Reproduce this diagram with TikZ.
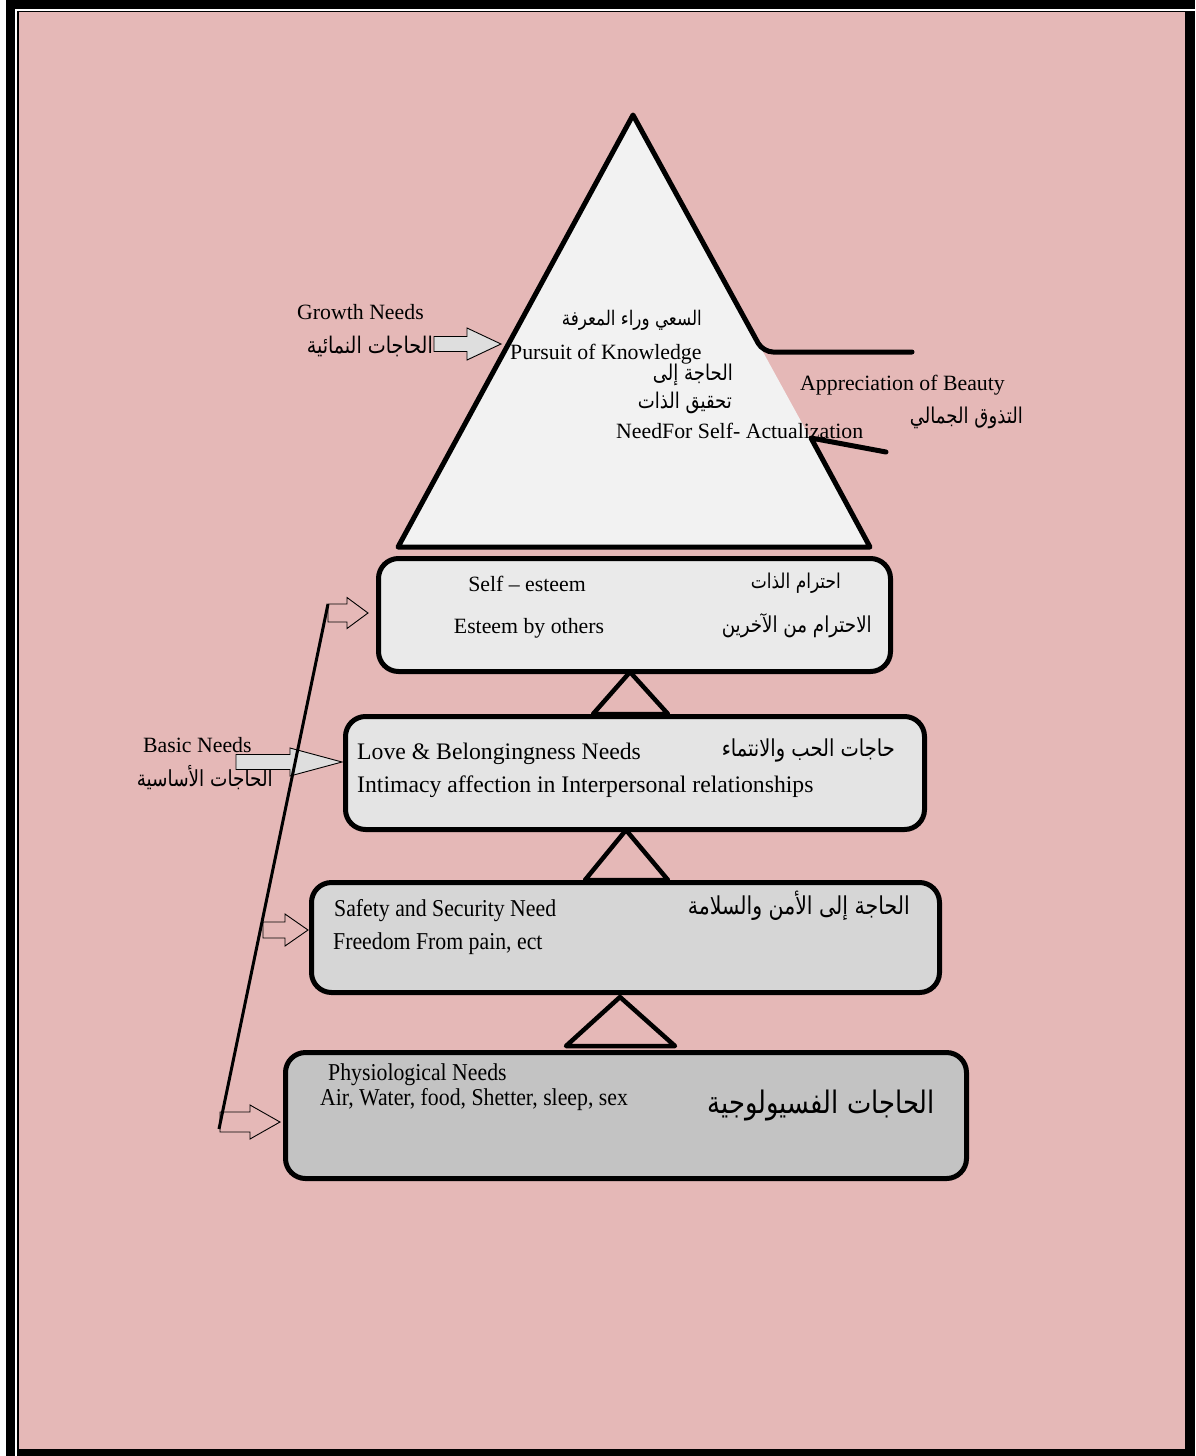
\documentclass[tikz,border=0pt]{standalone}
\usepackage{fontspec}
\usepackage{graphicx}
\setmainfont{Liberation Serif}
\newfontfamily\arabicfont[Script=Arabic]{DejaVu Sans}
\TeXXeTstate=1
\usetikzlibrary{calc}
\definecolor{pinkbg}{HTML}{E5B8B7}
\definecolor{pyrc}{HTML}{F2F2F2}
\definecolor{boxa}{HTML}{EAEAEA}
\definecolor{boxb}{HTML}{E4E4E4}
\definecolor{boxc}{HTML}{D6D6D6}
\definecolor{boxd}{HTML}{C3C3C3}
\definecolor{arrg}{HTML}{DEDEDE}
\newcommand\arw[2]{\resizebox{#1pt}{!}{\scalebox{1}[1.2]{\arabicfont #2}}}
\newcommand\narrow[1]{\scalebox{0.9}[1]{\fontsize{24.2}{28}\selectfont #1}}
\newcommand\blockarr[7]{%
  \draw[#7] (#1,#4-#5) -- (#2,#4-#5) -- (#2,#4-#6) -- (#3,#4) -- (#2,#4+#6) -- (#2,#4+#5) -- (#1,#4+#5) -- cycle;}
\begin{document}
\begin{tikzpicture}[x=1pt,y=-1pt,
  en/.style={inner sep=0pt, anchor=base west, font=\fontsize{21.8}{26}\selectfont},
  enbig/.style={en, font=\fontsize{23.7}{28}\selectfont},
  enc/.style={en, anchor=base},
  arl/.style={inner sep=0pt, anchor=east},
  box/.style={draw=black, line width=5pt, rounded corners=20pt, inner sep=0pt},
  tri/.style={draw=black, line width=4.5pt, line join=round},
  thick line/.style={line width=5pt, line join=round, line cap=round},
  outarrow/.style={draw=black, line width=0.9pt},
  greyarrow/.style={draw=black, fill=arrg, line width=0.9pt}]

% page and frame
\useasboundingbox[fill=white] (0,0) rectangle (1195,1456);
\fill[black] (6,0) rectangle (1195,1456);
\draw[white, line width=1.6pt] (15.8,1456) -- (15.8,9.8) -- (1195,9.8);
\fill[pinkbg] (19,12) rectangle (1185,1449);

% pyramid
\fill[pyrc] (633,115) -- (398,547) -- (870,547) -- cycle;

% pyramid texts
\node[arl] (a2) at (702,320) {\arw{140}{\beginR السعي وراء المعرفة\endR}};
\node[en] (e2) at (510,359) {Pursuit of Knowledge};
\node[arl] (a3) at (733,375) {\arw{80}{\beginR الحاجة إلى\endR}};
\node[arl] (a4) at (732,403) {\arw{94}{\beginR تحقيق الذات\endR}};
\node[en] (e4) at (616,438) {NeedFor Self- Actualization};

\draw[thick line] (912,352) [rounded corners=10pt] -- (763,352) [sharp corners] -- (633,115) -- (398,547) -- (870,547) -- (811,438) -- (886,452);

% appreciation of beauty
\node[en] (e5) at (800,390) {Appreciation of Beauty};
\node[arl] (a5) at (1023,418) {\arw{113}{\beginR التذوق الجمالي\endR}};

% growth needs
\node[en] (e1) at (297,319) {Growth Needs};
\node[arl] (a1) at (433,346) {\arw{126}{\beginR الحاجات النمائية\endR}};
\blockarr{434}{467}{501}{344}{7.5}{16}{greyarrow}

% boxes
\node[box, fill=boxa, minimum width=512pt, minimum height=113pt] (b1) at (634.5,615) {};
\node[box, fill=boxb, minimum width=579pt, minimum height=113pt] (b2) at (635,773) {};
\node[box, fill=boxc, minimum width=628pt, minimum height=110pt] (b3) at (625.5,937.5) {};
\node[box, fill=boxd, minimum width=681pt, minimum height=126pt] (b4) at (626,1115.5) {};

% connecting triangles
\draw[tri] (630,672) -- (593,714) -- (668,714) -- cycle;
\draw[tri] (626,830) -- (585,880) -- (668,880) -- cycle;
\draw[tri] (620,997) -- (566,1046) -- (675,1046) -- cycle;

% box 1 texts
\node[enc] (t11) at (527,591) {Self – esteem};
\node[enc] (t12) at (529,633) {Esteem by others};
\node[arl] (t13) at (841,583) {\arw{90}{\beginR احترام الذات\endR}};
\node[arl] (t14) at (872,626) {\arw{150}{\beginR الاحترام من الآخرين\endR}};

% box 2 texts
\node[enbig] (t21) at (357,759) {Love \& Belongingness Needs};
\node[enbig] (t22) at (357,792) {Intimacy affection in Interpersonal relationships};
\node[arl] (t23) at (895,750) {\arw{173}{\beginR حاجات الحب والانتماء\endR}};

% box 3 texts
\node[en] (t31) at (334,916) {\narrow{Safety and Security Need}};
\node[en] (t32) at (333,949) {\narrow{Freedom From pain, ect}};
\node[arl] (t33) at (910,906) {\arw{222}{\beginR الحاجة إلى الأمن والسلامة\endR}};

% box 4 texts
\node[en] (t41) at (328,1080) {\narrow{Physiological Needs}};
\node[en] (t42) at (320,1105) {\narrow{Air, Water, food, Shetter, sleep, sex}};
\node[arl] (t43) at (935,1105) {\arw{227}{\beginR الحاجات الفسيولوجية\endR}};

% basic needs
\node[en] (e6) at (143,752) {Basic Needs};
\node[arl] (a6) at (273,778) {\arw{136}{\beginR الحاجات الأساسية\endR}};
\blockarr{236}{290}{342}{762}{7.5}{14}{greyarrow}

% left line and outline arrows
\coordinate (lb) at (219,1129);
\coordinate (lt) at (328,604);
\draw[line width=3pt] (lb) -- (lt);
\blockarr{328}{347}{368}{613}{9}{15.5}{outarrow}
\blockarr{263}{285}{308}{930}{8}{16}{outarrow}
\blockarr{220}{250}{280}{1122}{10}{17}{outarrow}
\end{tikzpicture}
\end{document}
